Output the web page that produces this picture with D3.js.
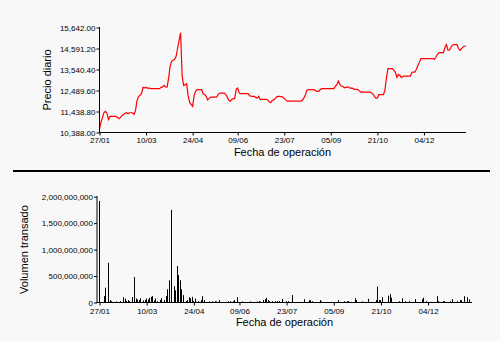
<!DOCTYPE html>
<html><head><meta charset="utf-8">
<script src="https://cdn.jsdelivr.net/npm/d3@7"></script>
<style>html,body{margin:0;padding:0;background:#f8f8f8;}svg{display:block}</style>
</head><body><svg id="c" width="500" height="341"></svg>
<script>
const dateLabels = ["27/01","10/03","24/04","09/06","23/07","05/09","21/10","04/12"];
const dateTickIdx = [0,31,62,92,123,154,185,216];
const priceTicks = [10388, 11438.8, 12489.6, 13540.4, 14591.2, 15642];
const volumeTicks = [0, 500000000, 1000000000, 1500000000, 2000000000];

const price = [
10589,10890,11141,11392,11442,11342,11040,11191,11191,11191,
11191,11191,11141,11075,11141,11241,11291,11342,11377,11327,
11377,11377,11377,11291,11492,11994,12195,12245,12345,12646,
12621,12646,12596,12621,12581,12581,12581,12581,12581,12581,
12581,12646,12671,12747,12671,12661,13098,13700,13951,14001,
14051,14202,14603,15005,15373,13249,12747,12772,12832,12245,
11894,11793,11693,12245,12446,12531,12531,12531,12531,12330,
12295,12195,12019,12094,12159,12159,12159,12159,12159,12295,
12360,12360,12360,12360,12295,12170,12019,11944,12044,12079,
12079,12546,12611,12360,12330,12330,12330,12330,12330,12330,
12220,12210,12195,12195,12145,12109,12195,12044,12044,12044,
12044,12044,12019,11919,11879,11994,12019,12094,12170,12195,
12195,12180,12159,12094,12019,11959,11959,11959,11959,11959,
11959,11959,11959,11959,11959,11994,12109,12245,12496,12531,
12531,12531,12531,12531,12471,12446,12446,12546,12581,12581,
12581,12581,12581,12581,12581,12581,12581,12696,12781,12963,
12797,12711,12696,12621,12646,12661,12661,12596,12621,12571,
12546,12546,12531,12471,12411,12411,12411,12411,12411,12411,
12411,12380,12320,12195,12109,12109,12280,12280,12280,12280,
12496,13098,13585,13585,13585,13585,13499,13399,13148,13283,
13249,13133,13198,13213,13213,13213,13213,13213,13399,13414,
13414,13549,13750,13901,14086,14086,14086,14086,14086,14086,
14086,14086,14086,14051,14152,14302,14387,14387,14387,14387,
14653,14789,14503,14503,14653,14754,14789,14789,14789,14603,
14503,14578,14668,14703,14718];

const volIdx = [0,3,4,6,7,8,11,14,16,17,18,19,20,22,23,24,25,26,27,29,
30,31,32,33,34,35,36,37,38,40,41,43,44,45,46,47,49,50,51,52,
53,54,55,57,58,59,60,61,62,63,65,67,68,69,72,74,76,77,79,85,
86,88,89,91,94,99,104,105,106,108,109,110,111,112,114,116,117,118,120,123,
124,127,135,138,139,140,145,146,157,161,163,164,168,169,173,177,182,183,184,185,
186,190,191,192,197,199,201,204,208,212,213,215,222,223,226,227,231,232,235,237,
238,240,242,243];
const volume = [1920e6,120e6,280e6,750e6,45e6,25e6,20e6,25e6,100e6,75e6,30e6,45e6,25e6,100e6,480e6,75e6,57e6,45e6,80e6,40e6,
45e6,75e6,57e6,90e6,107e6,120e6,40e6,75e6,25e6,45e6,80e6,45e6,120e6,250e6,420e6,1750e6,310e6,230e6,690e6,520e6,
420e6,250e6,140e6,25e6,45e6,100e6,80e6,107e6,25e6,75e6,25e6,45e6,120e6,45e6,20e6,20e6,25e6,20e6,45e6,20e6,
25e6,25e6,45e6,100e6,20e6,20e6,20e6,25e6,20e6,45e6,63e6,90e6,45e6,25e6,25e6,25e6,25e6,25e6,70e6,25e6,
25e6,140e6,63e6,40e6,45e6,25e6,45e6,20e6,45e6,25e6,25e6,25e6,80e6,45e6,20e6,70e6,45e6,300e6,45e6,45e6,
100e6,130e6,160e6,90e6,25e6,80e6,25e6,25e6,63e6,63e6,90e6,25e6,120e6,25e6,25e6,25e6,25e6,63e6,25e6,45e6,
45e6,120e6,100e6,60e6];

const FONT = "'Liberation Sans', Arial, sans-serif";
const svg = d3.select("#c");
svg.append("rect").attr("width",500).attr("height",341).attr("fill","#f8f8f8");

function styleAxis(g){
  g.selectAll("text").attr("font-family",FONT).attr("font-size","8px").attr("fill","#000");
  g.selectAll("line").attr("stroke","#000");
  g.select(".domain").remove();
}

// ---------- Top chart: price ----------
const xTop = d3.scaleLinear().domain([0, price.length-1]).range([99.5, 466]);
const yTop = d3.scaleLinear().domain([10388, 15642]).range([132.5, 27.5]);

svg.append("path").datum(price)
  .attr("fill","none").attr("stroke","#ff0000").attr("stroke-width",1.2)
  .attr("stroke-linejoin","miter")
  .attr("d", d3.line().x((d,i)=>xTop(i)).y(d=>yTop(d)));

svg.append("g").attr("transform","translate(99.5,0)")
  .call(d3.axisLeft(yTop).tickValues(priceTicks).tickSize(3).tickPadding(1)
    .tickFormat(d3.format(",.2f")))
  .call(styleAxis);
svg.append("line").attr("x1",99.5).attr("x2",99.5).attr("y1",27).attr("y2",133).attr("stroke","#000");

svg.append("g").attr("transform","translate(0,132.5)")
  .call(d3.axisBottom(xTop).tickValues(dateTickIdx).tickSize(3).tickPadding(1.5)
    .tickFormat((d,i)=>dateLabels[i]))
  .call(styleAxis);
svg.append("line").attr("x1",99).attr("x2",466).attr("y1",132.5).attr("y2",132.5).attr("stroke","#000");

svg.append("text").attr("transform","translate(50.5,80) rotate(-90)")
  .attr("text-anchor","middle").attr("font-family",FONT).attr("font-size","11px")
  .attr("fill","#000").text("Precio diario");
svg.append("text").attr("x",282.5).attr("y",156)
  .attr("text-anchor","middle").attr("font-family",FONT).attr("font-size","11px")
  .attr("fill","#000").text("Fecha de operación");

// separator
svg.append("rect").attr("x",13).attr("y",170).attr("width",477).attr("height",2).attr("fill","#000");

// ---------- Bottom chart: volume ----------
const xBot = d3.scaleLinear().domain([0, price.length-1]).range([99.5, 470.7]);
const yBot = d3.scaleLinear().domain([0, 2000000000]).range([302.5, 196.7]);

svg.append("g").selectAll("rect").data(volIdx).join("rect")
  .attr("x", d=>Math.floor(xBot(d)))
  .attr("width",1)
  .attr("y", (d,i)=>yBot(volume[i]))
  .attr("height",(d,i)=>yBot(0)-yBot(volume[i]))
  .attr("fill","#000");

svg.append("g").attr("transform","translate(97,0)")
  .call(d3.axisLeft(yBot).tickValues(volumeTicks).tickSize(3).tickPadding(1)
    .tickFormat(d3.format(",")))
  .call(styleAxis);
svg.append("line").attr("x1",97).attr("x2",97).attr("y1",196).attr("y2",303).attr("stroke","#000");

svg.append("g").attr("transform","translate(0,302.5)")
  .call(d3.axisBottom(xBot).tickValues(dateTickIdx).tickSize(3).tickPadding(2.8)
    .tickFormat((d,i)=>dateLabels[i]))
  .call(styleAxis);
svg.append("line").attr("x1",96.5).attr("x2",472).attr("y1",302.5).attr("y2",302.5).attr("stroke","#000");

svg.append("text").attr("transform","translate(27.5,249.6) rotate(-90)")
  .attr("text-anchor","middle").attr("font-family",FONT).attr("font-size","11px")
  .attr("fill","#000").text("Volumen transado");
svg.append("text").attr("x",284.5).attr("y",326)
  .attr("text-anchor","middle").attr("font-family",FONT).attr("font-size","11px")
  .attr("fill","#000").text("Fecha de operación");
</script></body></html>
